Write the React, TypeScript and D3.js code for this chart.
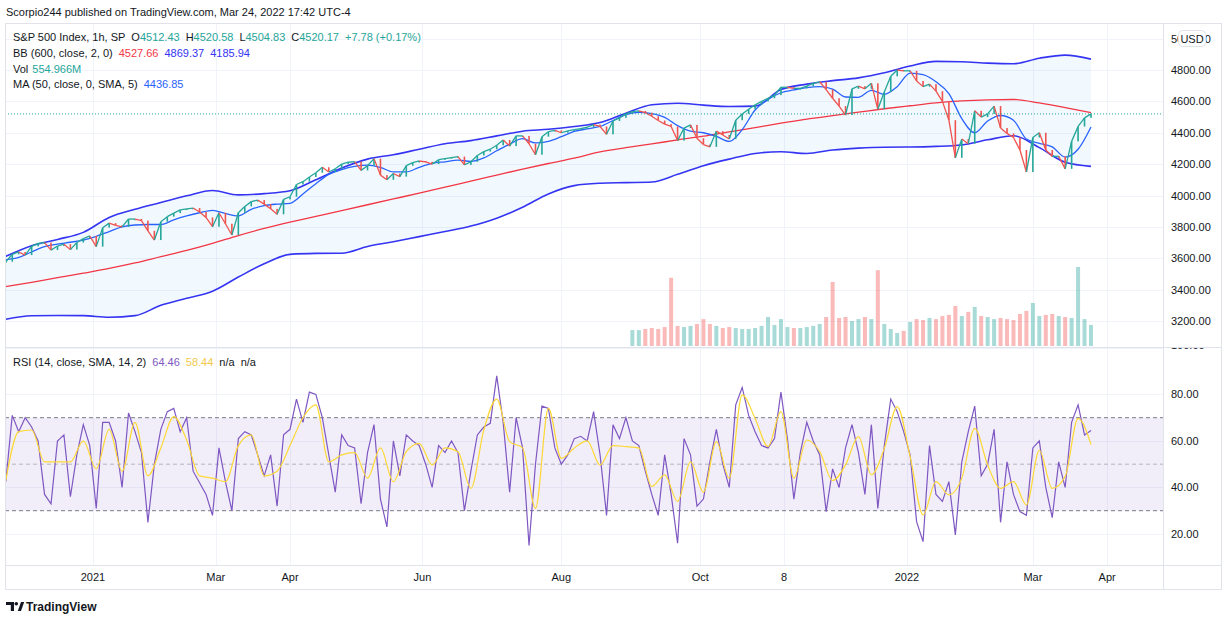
import React from 'react';
import * as d3 from 'd3';

// ---------- DATA ----------
// Trading-day index: 0 = first visible bar (late Nov 2020), 336 = Mar 24 2022
const LAST_DAY = 336;
const CLOSE_STEP = 2; // closes sampled every 2 trading days
const closes = [
  3578, 3625, 3640, 3620, 3676, 3695, 3700, 3652, 3678, 3690,
  3655, 3700, 3725, 3742, 3674, 3795, 3824, 3810, 3800, 3850,
  3850, 3840, 3775, 3716, 3833, 3865, 3888, 3908, 3915, 3920,
  3895, 3860, 3801, 3890, 3820, 3748, 3890, 3930, 3961, 3971,
  3945, 3915, 3880, 3975, 3992, 4070, 4088, 4118, 4145, 4180,
  4150, 4170, 4200, 4212, 4216, 4160, 4190, 4235, 4130, 4100,
  4140, 4120, 4190, 4210, 4220, 4215, 4200, 4228, 4235, 4242,
  4248, 4195, 4215, 4255, 4280, 4295, 4320, 4354, 4315, 4380,
  4380, 4330, 4260, 4375, 4407, 4415, 4400, 4412, 4420, 4426,
  4435, 4452, 4440, 4390, 4475, 4495, 4520, 4535, 4539, 4528,
  4505, 4478, 4455, 4440, 4350, 4430, 4450, 4365, 4325, 4310,
  4410, 4386, 4360, 4480, 4520, 4550, 4578, 4600, 4620, 4640,
  4690, 4690, 4683, 4683, 4697, 4715, 4725, 4675, 4620, 4570,
  4513, 4680, 4697, 4680, 4715, 4550, 4660, 4760, 4800, 4795,
  4795, 4730, 4694, 4710, 4665, 4600, 4480, 4240, 4360, 4330,
  4540, 4500, 4520, 4570, 4430, 4396, 4370, 4290, 4150, 4370,
  4400, 4290, 4250, 4250, 4170, 4345, 4440, 4495, 4520.17,
];

const BAND_STEP = 8;
const bbUpper = [
  3612, 3680, 3720, 3765, 3860, 3912, 3955, 3998, 4032, 4004,
  4012, 4030, 4100, 4175, 4232, 4260, 4295, 4330, 4350, 4380,
  4410, 4422, 4440, 4465, 4525, 4578, 4588, 4576, 4567, 4570,
  4675, 4710, 4732, 4750, 4782, 4825, 4855, 4853, 4844, 4840,
  4875, 4895, 4869.37,
];
const bbLower = [
  3211, 3233, 3235, 3234, 3224, 3234, 3300, 3345, 3390, 3480,
  3565, 3625, 3631, 3632, 3675, 3705, 3738, 3770, 3805, 3855,
  3925, 4010, 4063, 4078, 4082, 4086, 4135, 4190, 4232, 4268,
  4279, 4268, 4290, 4302, 4308, 4309, 4313, 4322, 4355, 4381,
  4305, 4212, 4185.94,
];
const bbBasis = [
  3419, 3446, 3476, 3505, 3535, 3570, 3610, 3650, 3695, 3745,
  3790, 3830, 3867, 3904, 3941, 3978, 4015, 4053, 4092, 4130,
  4168, 4204, 4238, 4278, 4305, 4329, 4354, 4378, 4406, 4433,
  4461, 4487, 4509, 4531, 4553, 4572, 4590, 4603, 4610, 4612,
  4590, 4560, 4527.66,
];

const MA_STEP = 4;
const ma50 = [
  3590, 3605, 3640, 3674, 3690, 3702, 3716, 3740, 3770, 3800,
  3812, 3815, 3815, 3845, 3870, 3890, 3905, 3885, 3870, 3912,
  3935, 3945, 3950, 4010, 4075, 4135, 4165, 4185, 4194, 4179,
  4150, 4150, 4180, 4205, 4215, 4225, 4218, 4240, 4285, 4328,
  4362, 4335, 4345, 4375, 4408, 4425, 4440, 4478, 4515, 4530,
  4522, 4498, 4445, 4410, 4400, 4377, 4345, 4420, 4545, 4612,
  4655, 4673, 4688, 4694, 4678, 4628, 4626, 4670, 4645, 4694,
  4780, 4770, 4725, 4650, 4490, 4400, 4475, 4510, 4480, 4360,
  4333, 4310, 4245, 4295, 4436.85,
];

// Volume (millions), one per close sample starting at sample 97
const VOL_START = 97;
const volumes = [
  420, 420, 450, 475, 450, 500, 1800, 530, 500, 530,
  580, 710, 580, 530, 475, 500, 475, 450, 450, 475,
  530, 765, 555, 710, 500, 475, 475, 500, 530, 580,
  765, 1690, 740, 765, 660, 710, 765, 710, 2000, 580,
  450, 345, 400, 635, 710, 685, 740, 710, 790, 820,
  1055, 790, 900, 1030, 790, 765, 710, 740, 710, 685,
  845, 925, 1135, 790, 820, 845, 790, 765, 740, 2085,
  710, 555,
];

const rsi = [
  42.5, 71, 64, 70, 66, 60, 37, 33, 60, 62.6,
  36, 54, 67, 58, 31, 68, 68, 60, 40, 72,
  64, 55, 25, 50, 65, 72.6, 74, 64, 70, 47,
  42, 37, 28, 57, 42.5, 30, 61, 64, 62.6, 54,
  45, 54, 32, 62.6, 65, 78, 68, 81, 80, 70,
  54, 38, 62.6, 58, 57, 33, 55, 67, 35, 23,
  60, 45, 62.6, 60, 58, 50, 40, 58, 55, 60,
  55, 30, 47, 62.6, 66, 67.6, 88, 68, 38, 70,
  57, 15, 50, 75, 74, 57, 50, 54, 61, 62,
  60, 72.6, 54, 28, 67, 61, 70, 60, 58, 47,
  37, 28, 54, 37, 16, 61, 54, 32, 35, 51,
  65, 50, 40, 75.5, 83, 71, 64, 58, 57, 61,
  81, 61, 35, 55, 68, 60, 54, 29.6, 48, 40,
  57, 67, 55, 37, 67, 31, 58, 78, 72.6, 64,
  54, 25.3, 16.7, 58, 37, 34, 42.5, 19.6, 51, 64,
  75, 45, 50, 65, 25, 51, 37, 29.6, 28, 57,
  60, 40, 27, 51, 40, 68, 75.5, 62.6, 64.46,
];
const rsiMa = [
  43, 64, 64.7, 51, 51, 51, 60, 48, 65, 47,
  68, 45, 57, 70.5, 60.4, 45, 44, 42.5, 58, 62.6,
  45, 47, 58, 70, 75.5, 51, 54, 55, 44, 57,
  42.5, 55.4, 59, 49.7, 57, 55.4, 39.6, 64.7, 78, 59.7,
  57, 31, 74, 52.5, 57, 60, 49.7, 58, 57.6, 57,
  40.4, 45.4, 34, 51, 38, 59.7, 44, 79.8, 69.7, 57.6,
  72.6, 44, 60.4, 55.4, 43, 49.7, 61.9, 45.4, 56.8, 74.8,
  53.3, 28.2, 42.5, 36.8, 44, 65.4, 49.7, 39.6, 42.5, 32.5,
  56, 39.6, 44.7, 69.7, 58.44,
];

const priceTicks = [5000, 4800, 4600, 4400, 4200, 4000, 3800, 3600, 3400, 3200];
const rsiTicks = [100, 80, 60, 40, 20];
const timeTickDays = [27, 65, 88, 129, 172, 215, 241, 279, 318, 341];
const timeTickLabels = ['2021', 'Mar', 'Apr', 'Jun', 'Aug', 'Oct', '8', '2022', 'Mar', 'Apr'];

// ---------- COLORS ----------
const UP = '#26a69a';
const DOWN = '#ef5350';
const TEXT = '#131722';
const GRID = '#f0f3fa';
const BORDER = '#e0e3eb';
const BAND_BLUE = '#3434f2';
const MA_BLUE = '#2962ff';
const RED = '#f23645';
const PURPLE = '#7e57c2';
const YELLOW = '#fdd835';
const FONT = '"Liberation Sans", Arial, sans-serif';

export default function App() {
  const W = 1226;
  const H = 619;
  const left = 5;
  const axisX = 1163;
  const right = 1222;
  const top = 23;
  const sep = 347;
  const rsiBottom = 565;
  const bottom = 590;

  const x = d3.scaleLinear().domain([0, LAST_DAY]).range([5.8, 1091]);
  const yP = d3.scaleLinear().domain([3200, 4800]).range([321, 70]);
  const yR = d3.scaleLinear().domain([30, 70]).range([510.7, 417.7]);
  const yV = d3.scaleLinear().domain([0, 2000]).range([346, 270.2]);

  const bandLine = (arr: number[]) =>
    d3.line<number>().x((_, i) => x(i * BAND_STEP)).y((v) => yP(v)).curve(d3.curveMonotoneX)(arr) || '';
  const bandArea =
    d3
      .area<number>()
      .x((_, i) => x(i * BAND_STEP))
      .y0((_, i) => yP(bbLower[i]))
      .y1((v) => yP(v))
      .curve(d3.curveMonotoneX)(bbUpper) || '';
  const maPath =
    d3.line<number>().x((_, i) => x(i * MA_STEP)).y((v) => yP(v)).curve(d3.curveMonotoneX)(ma50) || '';
  const rsiPath = d3.line<number>().x((_, i) => x(i * CLOSE_STEP)).y((v) => yR(v))(rsi) || '';
  const rsiMaPath =
    d3.line<number>().x((_, i) => x(i * MA_STEP)).y((v) => yR(v)).curve(d3.curveMonotoneX)(rsiMa) || '';

  // dense hourly candles rendered as a trace: each sample's move (open = previous close)
  const bw = 1.6;
  const candles = closes.map((c, k) => {
    const o = k > 0 ? closes[k - 1] : c;
    const up = c >= o;
    const col = up ? UP : DOWN;
    const x0 = x((k > 0 ? k - 1 : k) * CLOSE_STEP);
    const x1 = x(k * CLOSE_STEP);
    const y1 = yP(Math.max(o, c));
    const y2 = yP(Math.min(o, c));
    return (
      <g key={'c' + k}>
        {k > 0 && <line x1={x0} y1={yP(o)} x2={x1} y2={yP(c)} stroke={col} strokeWidth={1.3} />}
        <rect x={x1 - bw / 2} y={y1} width={bw} height={Math.max(1.2, y2 - y1)} fill={col} />
      </g>
    );
  });

  const volBars = volumes.map((v, j) => {
    const k = VOL_START + j;
    const up = closes[k] >= closes[k - 1];
    const cx = x(k * CLOSE_STEP);
    return (
      <rect
        key={'v' + j}
        x={cx - 2}
        y={yV(v)}
        width={4}
        height={yV(0) - yV(v)}
        fill={up ? UP : DOWN}
        opacity={0.4}
      />
    );
  });

  const lastClose = closes[closes.length - 1];

  return (
    <svg
      width={W}
      height={H}
      style={{ position: 'absolute', left: 0, top: 0, background: '#fff' }}
      fontFamily={FONT}
    >
      <defs>
        <clipPath id="pricePane">
          <rect x={left} y={top} width={axisX - left} height={sep - top} />
        </clipPath>
        <clipPath id="rsiPane">
          <rect x={left} y={sep} width={axisX - left} height={rsiBottom - sep} />
        </clipPath>
        <clipPath id="rsiAxis">
          <rect x={axisX} y={sep + 1} width={right - axisX} height={rsiBottom - sep - 1} />
        </clipPath>
      </defs>
      <rect x={0} y={0} width={W} height={H} fill="#fff" />

      {/* header */}
      <text x={6} y={16} fontSize={11} fill={TEXT}>
        Scorpio244 published on TradingView.com, Mar 24, 2022 17:42 UTC-4
      </text>

      {/* grid */}
      <g stroke={GRID} strokeWidth={1}>
        {timeTickDays.map((d, i) => (
          <line key={'vg' + i} x1={Math.round(x(d)) + 0.5} x2={Math.round(x(d)) + 0.5} y1={top} y2={rsiBottom} />
        ))}
        {priceTicks.map((p, i) =>
          yP(p) > top ? (
            <line key={'pg' + i} x1={left} x2={axisX} y1={Math.round(yP(p)) + 0.5} y2={Math.round(yP(p)) + 0.5} />
          ) : null
        )}
        {rsiTicks.map((r, i) => (
          <line key={'rg' + i} x1={left} x2={axisX} y1={Math.round(yR(r)) + 0.5} y2={Math.round(yR(r)) + 0.5} />
        ))}
      </g>

      {/* price pane */}
      <g clipPath="url(#pricePane)">
        <path d={bandArea} fill="rgba(33,150,243,0.06)" />
        {volBars}
        <path d={bandLine(bbBasis)} fill="none" stroke={RED} strokeWidth={1.3} />
        <path d={bandLine(bbUpper)} fill="none" stroke={BAND_BLUE} strokeWidth={1.6} />
        <path d={bandLine(bbLower)} fill="none" stroke={BAND_BLUE} strokeWidth={1.6} />
        <path d={maPath} fill="none" stroke={MA_BLUE} strokeWidth={1.3} />
        {candles}
        <line
          x1={left}
          x2={axisX}
          y1={yP(lastClose)}
          y2={yP(lastClose)}
          stroke={UP}
          strokeWidth={1}
          strokeDasharray="1 2"
        />
      </g>

      {/* RSI pane */}
      <g clipPath="url(#rsiPane)">
        <rect x={left} y={yR(70)} width={axisX - left} height={yR(30) - yR(70)} fill="rgba(126,87,194,0.1)" />
        <line x1={left} x2={axisX} y1={yR(70)} y2={yR(70)} stroke="#787b86" strokeDasharray="4 3" />
        <line x1={left} x2={axisX} y1={yR(50)} y2={yR(50)} stroke="rgba(120,123,134,0.5)" strokeDasharray="4 3" />
        <line x1={left} x2={axisX} y1={yR(30)} y2={yR(30)} stroke="#787b86" strokeDasharray="4 3" />
        <path d={rsiPath} fill="none" stroke={PURPLE} strokeWidth={1.2} />
        <path d={rsiMaPath} fill="none" stroke={YELLOW} strokeWidth={1.2} />
      </g>

      {/* frame */}
      <g stroke={BORDER} strokeWidth={1} fill="none">
        <rect x={left + 0.5} y={top + 0.5} width={right - left - 1} height={bottom - top - 1} />
        <line x1={axisX + 0.5} x2={axisX + 0.5} y1={top} y2={bottom} />
        <line x1={left} x2={right} y1={sep + 0.5} y2={sep + 0.5} />
        <line x1={left} x2={right} y1={rsiBottom + 0.5} y2={rsiBottom + 0.5} />
      </g>

      {/* price axis */}
      <g fontSize={11} fill={TEXT}>
        {priceTicks.map((p, i) => (
          <text key={'pt' + i} x={1171} y={yP(p) + 4}>
            {p.toFixed(2)}
          </text>
        ))}
      </g>
      <rect x={1178.5} y={30.5} width={27} height={16} rx={4} fill="#fff" stroke={BORDER} />
      <text x={1192} y={42.5} fontSize={11} fill={TEXT} textAnchor="middle">
        USD
      </text>

      {/* rsi axis */}
      <g fontSize={11} fill={TEXT} clipPath="url(#rsiAxis)">
        {rsiTicks.map((r, i) => (
          <text key={'rt' + i} x={1171} y={yR(r) + 4 - (r === 100 ? 3 : 0)}>
            {r.toFixed(2)}
          </text>
        ))}
      </g>

      {/* time axis */}
      <g fontSize={11} fill={TEXT} textAnchor="middle">
        {timeTickDays.map((d, i) => (
          <text key={'tt' + i} x={x(d)} y={581}>
            {timeTickLabels[i]}
          </text>
        ))}
      </g>

      {/* legends */}
      <g fontSize={11} fill={TEXT}>
        <text x={13} y={41}>
          <tspan>S&amp;P 500 Index, 1h, SP</tspan>
          <tspan dx={6}>O</tspan>
          <tspan fill={UP}>4512.43</tspan>
          <tspan dx={6}>H</tspan>
          <tspan fill={UP}>4520.58</tspan>
          <tspan dx={6}>L</tspan>
          <tspan fill={UP}>4504.83</tspan>
          <tspan dx={6}>C</tspan>
          <tspan fill={UP}>4520.17</tspan>
          <tspan dx={6} fill={UP}>+7.78 (+0.17%)</tspan>
        </text>

        <text x={13} y={57}>
          <tspan>BB (600, close, 2, 0)</tspan>
          <tspan dx={6} fill={RED}>4527.66</tspan>
          <tspan dx={6} fill={BAND_BLUE}>4869.37</tspan>
          <tspan dx={6} fill={BAND_BLUE}>4185.94</tspan>
        </text>

        <text x={13} y={73}>
          <tspan>Vol</tspan>
          <tspan dx={4} fill={UP}>554.966M</tspan>
        </text>

        <text x={13} y={88}>
          <tspan>MA (50, close, 0, SMA, 5)</tspan>
          <tspan dx={6} fill={MA_BLUE}>4436.85</tspan>
        </text>

        <text x={13} y={366}>
          <tspan>RSI (14, close, SMA, 14, 2)</tspan>
          <tspan dx={6} fill={PURPLE}>64.46</tspan>
          <tspan dx={6} fill="#f2c94c">58.44</tspan>
          <tspan dx={6}>n/a</tspan>
          <tspan dx={6}>n/a</tspan>
        </text>
      </g>

      {/* footer logo */}
      <g fill={TEXT}>
        <path d="M6 602 h8 v9 h-3.2 v-6 h-4.8 z" />
        <circle cx={16.3} cy={603.8} r={1.8} />
        <path d="M17.8 611 L21 602 h3.2 L21 611 z" />
        <text x={26} y={611} fontSize={12} fontWeight={600}>
          TradingView
        </text>
      </g>
    </svg>
  );
}
